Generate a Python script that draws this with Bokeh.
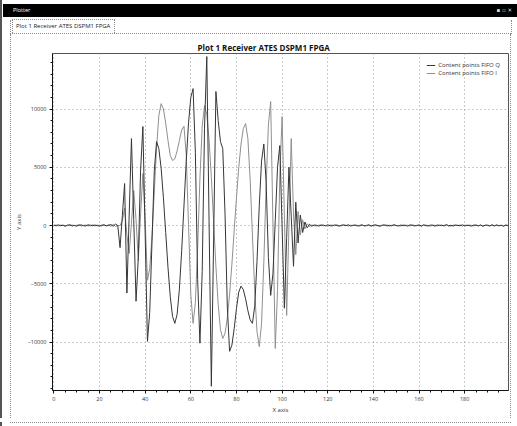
from bokeh.plotting import figure
from bokeh.models import (Range1d, Legend, LegendItem, SingleIntervalTicker, BasicTickFormatter, Div)
from bokeh.layouts import column, row
from bokeh.embed import file_html
from bokeh.resources import INLINE

# ---------------- data ----------------
window_title = "Plotter"
tab_title = "Plot 1 Receiver ATES DSPM1 FPGA"
chart_title = "Plot 1 Receiver ATES DSPM1 FPGA"
series_names = ["Content points FIFO Q", "Content points FIFO I"]
x_label = "X axis"
y_label = "Y axis"

q_head = [40, -30, 60, -20, 30, -50, 20, 70, -40, 10, -60, 30, 50, -20, -40, 60, 20, -30, 40, -10,
          -50, 30, 60, -40, 20, 80, -60, 120]
q_burst = [0, -1900, 850, 3600, -5800, 900, 7460, 500, -6500, -2750, 4750, 8500, -725, -9950,
           -7450, -1375, 4700, 7200, 6600, 4920, 2380, -600, -3580, -6120, -7810, -8400,
           -7630, -5460, -2170, 1675, 5520, 8810, 10980, 11750, 6290, -4640, -10100, -3950,
           8350, 14500, 350, -13800, -1150, 11500, 9000, 7200, 6600, 1000, -7000, -10800,
           -10270, -8870, -7130, -5730, -5200, -5500, -6300, -7300, -8100, -8400, -6940,
           -3090, 1690, 5540, 7000, 3750, -2750, -6000, -4120, 430, 4980, 6860, -120, -7100,
           -1050, 5000, 800, -3500, 2000, -1500, 900, -600, 300, -200, 100, -60, 40]
q_tail = [30, -50, 20, 40, -30, 60, -20, -40, 50, 10, -60, 30, 40, -20, 70, -50, 20, 30, -40, 10,
          50, -30, -20, 60, -50, 20, 40, -10, -60, 30, 50, -40, 20, -30, 60, 10, -50, 40, -20, 30,
          -60, 50, 20, -40, 10, 30, -50, 60, -20, -30, 40, 20, -60, 50, -10, 30, -40, 70, -30, 20,
          -50, 40, 10, -20, 60, -40, 30, -10, -50, 40, 20, -30, 50, -60, 30, 10, -40, 60, -20, 40,
          -30, 20, -50, 30, 10]

i_head = [-20, 50, -40, 30, 10, -60, 40, -20, 50, -30, 20, 60, -50, 10, 40, -30, -20, 70, -40, 30,
          20, -50, 40, -10, 60, -70, 90, -80]
i_burst = [0, 0, 400, 1500, -800, -2400, 200, 3000, 500, -3000, 1000, 4460, 500, -4700,
           -3680, -910, 2880, 6670, 9440, 10460, 10000, 8800, 7300, 6000, 5580, 5720, 6400,
           7300, 8200, 8520, 6050, 60, -5930, -8400, -6630, -1940, 4040, 8530, 10300, 9540,
           7380, 4120, 300, -3520, -6780, -8940, -9700, -9250, -7950, -5900, -3330, -475,
           2380, 4950, 6990, 8310, 8750, 7470, 3960, -820, -5610, -9120, -10400, -8400, -3140,
           3380, 8640, 10640, 45, -10550, -5570, 4380, 9350, 815, -7720, 0, 7460, 1000, -2500,
           1200, -800, 500, -300, 150, -80, 40, -20]
i_tail = [-40, 20, 50, -30, 10, -60, 40, 30, -20, 50, -10, -40, 60, 20, -50, 30, -20, 40, 10, -60,
          50, -30, 20, 40, -50, 10, 60, -40, -20, 30, -10, 50, -60, 20, 40, -30, 10, -50, 60, -20,
          30, -40, 50, 10, -30, 60, -50, 20, 40, -10, -60, 30, 20, -40, 50, -20, 10, 60, -30, -50,
          40, 20, -10, 50, -60, 30, -20, 40, 10, -40, 60, -30, 20, -50, 10, 40, -20, 30, -60, 50,
          -10, 20, -40, 30, -20]

fifo_q = q_head + q_burst + q_tail
fifo_i = i_head + i_burst + i_tail
x_q = list(range(len(fifo_q)))
x_i = list(range(len(fifo_i)))

# ---------------- page geometry ----------------
W, H = 517, 426
HEAD_H = 34          # window title bar + tab strip
LEFT_W, RIGHT_W = 11, 7
BOT_H = 8
PW, PH = W - LEFT_W - RIGHT_W, H - HEAD_H - BOT_H   # figure size
FL, FR, FT, FB = 52, 508, 53, 390   # frame edges on the page

font = "Open Sans"
dot = "1px dotted #8a8a8a"

p = figure(width=PW, height=PH, output_backend="svg", toolbar_location=None,
           x_range=Range1d(-0.6, 199.2), y_range=Range1d(-14163, 14764),
           min_border_left=FL - LEFT_W, min_border_right=(W - RIGHT_W) - FR,
           min_border_top=FT - HEAD_H, min_border_bottom=(HEAD_H + PH) - FB)
p.background_fill_color = "white"
p.border_fill_color = "white"
p.outline_line_color = "#555555"
p.outline_line_width = 1

p.title.text = chart_title
p.title.align = "left"
p.title.offset = 145
p.title.standoff = 2
p.title.text_font = font
p.title.text_font_style = "bold"
p.title.text_font_size = "8px"
p.title.text_color = "#111111"

q_color = "#363636"
i_color = "#8f8f8f"
r_i = p.line(x_i, fifo_i, line_color=i_color, line_width=1)
r_q = p.line(x_q, fifo_q, line_color=q_color, line_width=1)

for ax in (p.xaxis[0], p.yaxis[0]):
    ax.major_label_text_font = font
    ax.major_label_text_font_size = "5.5px"
    ax.major_label_text_color = "#333333"
    ax.axis_label_text_font = font
    ax.axis_label_text_font_size = "6px"
    ax.axis_label_text_font_style = "normal"
    ax.axis_label_text_color = "#333333"
    ax.axis_line_color = "#111111"
    ax.major_tick_line_color = "#111111"
    ax.minor_tick_line_color = "#111111"
    ax.major_tick_in = 0
    ax.major_tick_out = 3
    ax.minor_tick_in = 0
    ax.minor_tick_out = 2
    ax.major_label_standoff = 3
    ax.axis_label_standoff = 2

p.xaxis.ticker = SingleIntervalTicker(interval=20, num_minor_ticks=4)
p.yaxis.ticker = SingleIntervalTicker(interval=5000, num_minor_ticks=5)
p.yaxis.formatter = BasicTickFormatter(use_scientific=False)
p.xaxis.axis_label = x_label
p.yaxis.axis_label = y_label

for g in (p.xgrid[0], p.ygrid[0]):
    g.grid_line_color = "#9a9a9a"
    g.grid_line_dash = "1 3"
    g.grid_line_width = 1

legend = Legend(items=[LegendItem(label=series_names[0], renderers=[r_q]),
                       LegendItem(label=series_names[1], renderers=[r_i])],
                location="top_right", margin=8, padding=0, spacing=0,
                label_height=8, glyph_height=8, glyph_width=9, label_standoff=3,
                label_text_font=font, label_text_font_size="6px", label_text_color="#333333",
                border_line_color=None, background_fill_alpha=0)
p.add_layout(legend)

# ---------------- window chrome (HTML) ----------------
def abs_el(style, content=""):
    return f'<div style="position:absolute;{style}">{content}</div>'

edge = "left:0;top:0;width:2px;background:#555;"

head_html = (
    f'<div style="position:relative;width:{W}px;height:{HEAD_H}px;overflow:hidden;'
    f"font-family:'{font}';background:#fff\">"
    + abs_el(edge + f"height:{HEAD_H}px;")
    + abs_el(f"left:3px;top:4px;width:{W-3}px;height:13px;background:#000;")
    + abs_el("left:13px;top:4px;height:13px;line-height:13px;color:#fff;font-size:5.5px;", window_title)
    + abs_el("right:5px;top:4px;height:13px;line-height:13px;color:#ddd;font-size:5.5px;"
             "font-family:'DejaVu Sans';", "&#9642; &#9643; &#10005;")
    + abs_el(f"left:10px;top:{HEAD_H-1}px;width:501px;height:0;border-top:{dot};")
    + abs_el(f"left:10px;top:20px;width:0;height:{HEAD_H-20}px;border-left:{dot};")
    + abs_el(f"left:511px;top:20px;width:0;height:{HEAD_H-20}px;border-left:{dot};")
    + abs_el(f"left:12px;top:19px;width:103px;height:14px;border:{dot};border-bottom:none;background:#fff;")
    + abs_el("left:16px;top:20px;height:13px;line-height:13px;color:#222;font-size:6px;white-space:nowrap;",
             tab_title)
    + "</div>"
)
left_html = (
    f'<div style="position:relative;width:{LEFT_W}px;height:{PH}px;background:#fff">'
    + abs_el(edge + f"height:{PH}px;")
    + abs_el(f"left:10px;top:0;width:0;height:{PH}px;border-left:{dot};")
    + "</div>"
)
right_html = (
    f'<div style="position:relative;width:{RIGHT_W}px;height:{PH}px;background:#fff">'
    + abs_el(f"left:0;top:0;width:0;height:{PH}px;border-left:{dot};")
    + "</div>"
)
bot_html = (
    f'<div style="position:relative;width:{W}px;height:{BOT_H}px;background:#fff">'
    + abs_el(edge + f"height:{BOT_H}px;")
    + abs_el(f"left:10px;top:0;width:501px;height:0;border-top:{dot};")
    + "</div>"
)

head = Div(text=head_html, width=W, height=HEAD_H, margin=0)
left = Div(text=left_html, width=LEFT_W, height=PH, margin=0)
right = Div(text=right_html, width=RIGHT_W, height=PH, margin=0)
bottom = Div(text=bot_html, width=W, height=BOT_H, margin=0)
p.margin = 0

page = column(head, row(left, p, right, margin=0, spacing=0), bottom, margin=0, spacing=0)

open("out.html", "w").write(file_html(page, INLINE))
